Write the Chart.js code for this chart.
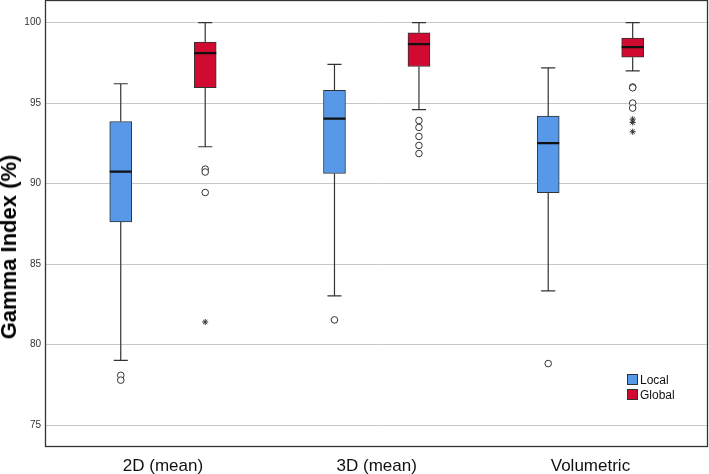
<!DOCTYPE html>
<html>
<head>
<meta charset="utf-8">
<script src="https://cdn.jsdelivr.net/npm/chart.js@4.4.1/dist/chart.umd.min.js"></script>
<style>
  html, body { margin: 0; padding: 0; background: #fff; }
  #wrap { position: relative; width: 709px; height: 474px; }
  #c { position: absolute; left: 0; top: 0; }
  #ytitle { position: absolute; left: 9px; top: 247px; transform: translate(-50%, -50%) rotate(-90deg);
    font: bold 22px "Liberation Sans", Arial, sans-serif; color: #000; white-space: nowrap; }
  #legend { position: absolute; left: 627px; top: 374px; font: 12px "Liberation Sans", Arial, sans-serif; color: #111; }
  #legend div { height: 15px; line-height: 12px; display: flex; align-items: flex-start; }
  #legend span.sw { display: inline-block; width: 9px; height: 9px; border: 1px solid #333; margin-right: 2px; }
</style>
</head>
<body>
<div id="wrap">
  <canvas id="c" width="709" height="474"></canvas>
  <div id="ytitle">Gamma Index (%)</div>
  <div id="legend">
    <div><span class="sw" style="background:#5799E8"></span>Local</div>
    <div><span class="sw" style="background:#D10A32"></span>Global</div>
  </div>
</div>
<script>
// ---- data ----
const categories = ["2D (mean)", "3D (mean)", "Volumetric"];
const yTicks = [75, 80, 85, 90, 95, 100];

// Local series: [whiskerMin, Q1, median, Q3, whiskerMax]
const localMin    = [79.03, 83.03, 83.34];
const localQ1     = [87.62, 90.63, 89.44];
const localMedian = [90.74, 94.03, 92.52];
const localQ3     = [93.86, 95.80, 94.19];
const localMax    = [96.20, 97.40, 97.19];
const localOutCircles = [[78.10, 77.80], [81.54], [78.83]];
const localOutStars   = [[], [], []];

// Global series
const globalMin    = [92.29, 94.60, 97.00];
const globalQ1     = [95.95, 97.27, 97.85];
const globalMedian = [98.10, 98.66, 98.47];
const globalQ3     = [98.78, 99.36, 99.03];
const globalMax    = [100.0, 100.0, 100.0];
const globalOutCircles = [[90.90, 90.72, 89.45], [93.92, 93.49, 92.93, 92.37, 91.87], [96.00, 95.95, 95.00, 94.69]];
const globalOutStars   = [[81.41], [], [94.00, 93.80, 93.22]];

// ---- build datasets ----
const OFF = 0.1976;       // offset of each series from category centre
const CAP = 0.033;        // half width of whisker cap
const HALF = 0.0515;      // half width of median line
const BLUE = '#5799E8', RED = '#D10A32', INK = '#333333';

function series(sign, mins, q1, med, q3, maxs, circ, stars, color, name) {
  const xs = categories.map((_, i) => i + sign * OFF);
  const box = { type: 'bar', label: name, order: 3, grouped: false,
    data: xs.map((x, i) => ({ x: x, y: [q1[i], q3[i]] })),
    backgroundColor: color, borderColor: INK, borderWidth: 1, borderSkipped: false, barThickness: 22 };
  const wpts = [];
  xs.forEach((x, i) => {
    wpts.push({x: x, y: q3[i]}, {x: x, y: maxs[i]}, {x: x, y: null});
    wpts.push({x: x, y: mins[i]}, {x: x, y: q1[i]}, {x: x, y: null});
    wpts.push({x: x - CAP, y: maxs[i]}, {x: x + CAP, y: maxs[i]}, {x: x, y: null});
    wpts.push({x: x - CAP, y: mins[i]}, {x: x + CAP, y: mins[i]}, {x: x, y: null});
  });
  const whisk = { type: 'line', order: 4, data: wpts, borderColor: INK, borderWidth: 1.2,
    pointRadius: 0, spanGaps: false, fill: false, tension: 0 };
  const mpts = [];
  xs.forEach((x, i) => { mpts.push({x: x - HALF, y: med[i]}, {x: x + HALF, y: med[i]}, {x: x, y: null}); });
  const medL = { type: 'line', order: 2, data: mpts, borderColor: '#111', borderWidth: 2.2,
    pointRadius: 0, spanGaps: false, fill: false };
  const cpts = [], spts = [];
  xs.forEach((x, i) => { circ[i].forEach(v => cpts.push({x: x, y: v})); stars[i].forEach(v => spts.push({x: x, y: v})); });
  const circles = { type: 'scatter', order: 1, data: cpts, pointStyle: 'circle', pointRadius: 3.3,
    pointBackgroundColor: '#fff', pointBorderColor: INK, pointBorderWidth: 1 };
  const starDs = { type: 'scatter', order: 1, data: spts, pointStyle: 'star', pointRadius: 3,
    pointBackgroundColor: INK, pointBorderColor: INK, pointBorderWidth: 1 };
  return [whisk, box, medL, circles, starDs];
}

const datasets = [].concat(
  series(-1, localMin, localQ1, localMedian, localQ3, localMax, localOutCircles, localOutStars, BLUE, 'Local'),
  series(+1, globalMin, globalQ1, globalMedian, globalQ3, globalMax, globalOutCircles, globalOutStars, RED, 'Global')
);

const frame = {
  id: 'frame',
  afterDraw(chart) {
    const a = chart.chartArea, ctx = chart.ctx;
    ctx.save();
    ctx.strokeStyle = '#333';
    ctx.lineWidth = 1.3;
    ctx.strokeRect(a.left + 0.5, a.top + 0.5, a.right - a.left - 1, a.bottom - a.top - 1);
    ctx.restore();
  }
};

new Chart(document.getElementById('c'), {
  type: 'bar',
  data: { datasets: datasets },
  plugins: [frame],
  options: {
    responsive: false,
    animation: false,
    layout: { autoPadding: false, padding: { top: 0, right: 1, left: 0, bottom: 0 } },
    plugins: { legend: { display: false }, tooltip: { enabled: false } },
    scales: {
      x: {
        type: 'linear', min: -0.552, max: 2.55, offset: false,
        grid: { display: false },
        border: { display: false },
        afterBuildTicks: s => { s.ticks = categories.map((_, i) => ({ value: i })); },
        afterFit: s => { s.height = 27; s.paddingLeft = 0; s.paddingRight = 0; },
        ticks: { callback: v => categories[v], color: '#111', padding: 1, maxRotation: 0,
          font: { family: '"Liberation Sans", Arial, sans-serif', size: 17 } }
      },
      y: {
        type: 'linear', min: 73.65, max: 101.4,
        grid: { color: '#C8C8C8', lineWidth: 1, drawTicks: false },
        border: { display: false },
        afterBuildTicks: s => { s.ticks = yTicks.map(v => ({ value: v })); },
        afterFit: s => { s.width = 45; s.paddingTop = 0; s.paddingBottom = 0; },
        ticks: { color: '#333', padding: 4,
          font: { family: '"Liberation Sans", Arial, sans-serif', size: 10 } }
      }
    }
  }
});
</script>
</body>
</html>
